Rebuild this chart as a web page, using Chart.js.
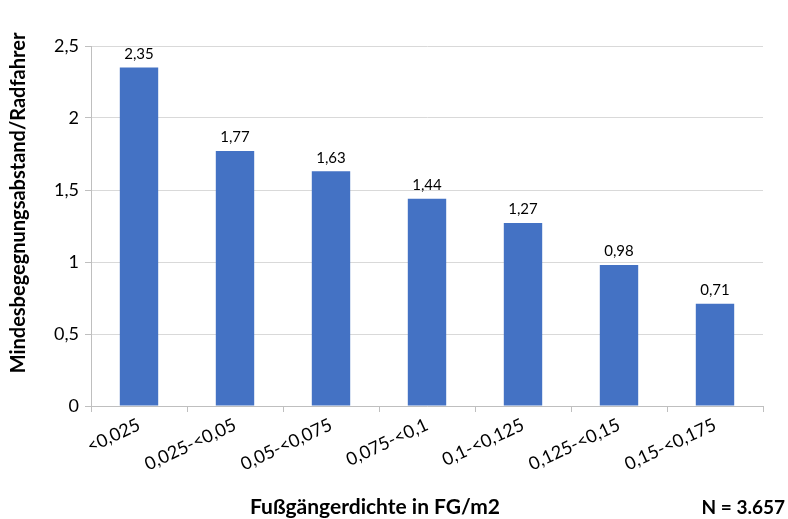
<!DOCTYPE html>
<html>
<head>
<meta charset="utf-8">
<script src="https://cdn.jsdelivr.net/npm/chart.js@4/dist/chart.umd.min.js"></script>
<style>
  html, body { margin: 0; padding: 0; background: #fff; }
  #wrap { width: 788px; height: 519px; }
</style>
</head>
<body>
<div id="wrap"><canvas id="chart"></canvas></div>
<script>
// Daten
const categories = ['<0,025', '0,025-<0,05', '0,05-<0,075', '0,075-<0,1', '0,1-<0,125', '0,125-<0,15', '0,15-<0,175'];
const abstand = [2.35, 1.77, 1.63, 1.44, 1.27, 0.98, 0.71];
const yTicks = [0, 0.5, 1, 1.5, 2, 2.5];
const yTitle = 'Mindesbegegnungsabstand/Radfahrer';
const xTitle = 'Fußgängerdichte in FG/m2';
const nLabel = 'N = 3.657';

const fmt = v => String(v).replace('.', ',');

// Werte über den Balken + Achsentitel
const labelPlugin = {
  id: 'labels',
  afterDatasetsDraw(chart) {
    const ctx = chart.ctx;
    const meta = chart.getDatasetMeta(0);
    ctx.save();
    ctx.font = '15px Lato';
    ctx.fillStyle = '#000';
    ctx.textAlign = 'center';
    ctx.textBaseline = 'bottom';
    meta.data.forEach((bar, i) => {
      ctx.fillText(fmt(abstand[i]), bar.x, bar.y - 6);
    });

    ctx.font = 'bold 21px Lato';
    ctx.textBaseline = 'middle';
    ctx.fillText(xTitle, 375, 507);
    ctx.textAlign = 'right';
    ctx.font = 'bold 19px Lato';
    ctx.fillText(nLabel, 785, 508);

    ctx.font = 'bold 20px Lato';
    ctx.translate(19, 203);
    ctx.rotate(-Math.PI / 2);
    ctx.textAlign = 'center';
    ctx.fillText(yTitle, 0, 0);
    ctx.restore();
  }
};

const ctx = document.getElementById('chart').getContext('2d');
new Chart(ctx, {
  type: 'bar',
  data: {
    labels: categories,
    datasets: [{
      data: abstand,
      backgroundColor: '#4472C4',
      barPercentage: 0.4,
      categoryPercentage: 1.0
    }]
  },
  options: {
    responsive: true,
    maintainAspectRatio: false,
    animation: false,
    layout: { padding: { top: 46, right: 25, left: 0, bottom: 0 } },
    plugins: {
      legend: { display: false },
      tooltip: { enabled: false }
    },
    scales: {
      x: {
        offset: true,
        grid: {
          offset: true,
          drawOnChartArea: false,
          drawTicks: true,
          tickLength: 6,
          color: '#bfbfbf'
        },
        border: { color: '#bfbfbf' },
        ticks: {
          font: { family: 'Lato', size: 18 },
          color: '#000',
          minRotation: 25,
          maxRotation: 25,
          padding: 2
        },
        afterFit(scale) { scale.height = 113; }
      },
      y: {
        min: 0,
        max: 2.5,
        afterBuildTicks(scale) {
          scale.ticks = yTicks.map(v => ({ value: v }));
        },
        grid: {
          color: '#d9d9d9',
          tickLength: 6,
          tickColor: '#bfbfbf'
        },
        border: { color: '#bfbfbf' },
        ticks: {
          font: { family: 'Lato', size: 18 },
          color: '#000',
          padding: 6,
          callback: v => fmt(v)
        },
        afterFit(scale) { scale.width = 91; }
      }
    }
  },
  plugins: [labelPlugin]
});
</script>
</body>
</html>
